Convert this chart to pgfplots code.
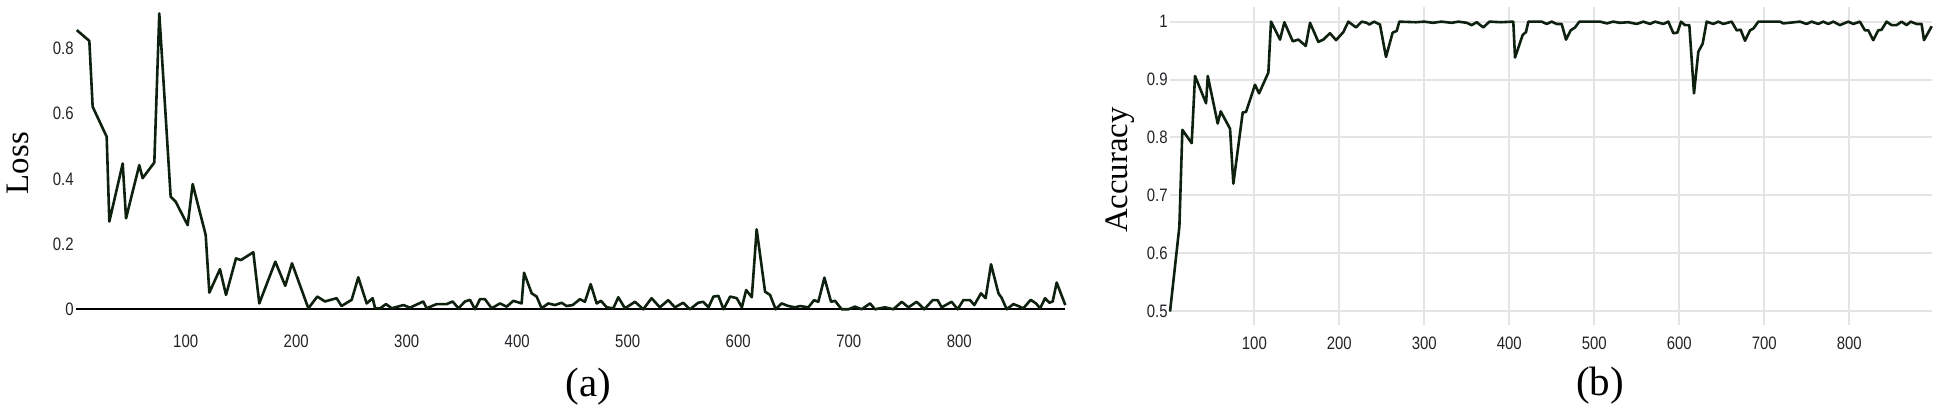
\documentclass[border=0pt]{standalone}
\usepackage{pgfplots}
\pgfplotsset{compat=1.18}
\usepackage{fontspec}
\usepackage{graphicx}
\setmainfont{Liberation Serif}
\newfontfamily\tickfont{Liberation Sans}
\definecolor{curve}{RGB}{14,32,14}
\definecolor{gridc}{RGB}{228,228,228}
\definecolor{tickc}{RGB}{35,35,40}
\pgfplotsset{
  mytick/.style={
    /pgf/number format/assume math mode=true,
    major tick length=0pt,
    tick style={draw=none},
    xticklabel={\tickfont\fontsize{9}{10}\selectfont\scalebox{0.83}[1]{\pgfmathprintnumber{\tick}}},
    yticklabel={\tickfont\fontsize{9}{10}\selectfont\scalebox{0.83}[1]{\pgfmathprintnumber{\tick}}},
    xticklabel style={anchor=north, inner sep=0pt, text=tickc},
    yticklabel style={anchor=east, inner sep=0pt, text=tickc},
    xtick={100,200,300,400,500,600,700,800},
  }
}
\begin{document}
\begin{tikzpicture}
\useasboundingbox (0,0) rectangle (969pt,205pt);
% ---------- (a) Loss ----------
\begin{axis}[
  mytick,
  at={(38.15pt,50.35pt)}, anchor=south west,
  scale only axis, width=494.5pt, height=148.4pt,
  xmin=1, xmax=896, ymin=0, ymax=0.91,
  axis line style={draw=none},
  ytick={0,0.2,0.4,0.6,0.8},
  xticklabel style={yshift=-12.8pt},
  yticklabel style={xshift=-1.1pt},
  clip=false,
]
\draw[black, line width=1pt] (axis cs:1,0) -- (axis cs:896,0);
\addplot[curve, line width=1.3pt, line join=round, mark=none] coordinates {
(1.4,0.856) (12.8,0.823) (15.8,0.621) (28.5,0.529) (30.9,0.269) (43,0.447) (46,0.279)
(58,0.442) (61,0.402) (71.6,0.45) (76.1,0.907) (86.4,0.345) (90.9,0.33) (101.8,0.258)
(106.3,0.384) (118.1,0.228) (121.4,0.051) (131,0.123) (136.5,0.044) (145.5,0.156)
(150,0.151) (161.2,0.175) (166.6,0.018) (181.1,0.146) (190.1,0.072) (196.2,0.141)
(211,0.003) (219.1,0.039) (226,0.024) (236.6,0.034) (241,0.01) (250.2,0.029)
(256.2,0.098) (263.8,0.018) (269.2,0.034) (271.4,0.003) (276,0.003) (281.3,0.016)
(286.4,0.003) (297,0.013) (303,0.005) (315,0.024) (318,0.003) (327.1,0.016)
(336.2,0.016) (341.6,0.024) (346.8,0.003) (352.8,0.024) (357.3,0.029) (361.8,0)
(366.3,0.031) (370.8,0.031) (376.9,0.003) (384.4,0.018) (390.5,0.008) (396.5,0.026)
(404,0.018) (406.2,0.112) (413.1,0.049) (417.6,0.039) (422.1,0.003) (428.1,0.018)
(434.2,0.013) (440.2,0.02) (444.7,0.01) (450.2,0.013) (456.8,0.031) (461.3,0.023)
(466.5,0.077) (471.9,0.018) (475.8,0.026) (481,0.006) (487,0.003) (491.5,0.037)
(497.5,0.003) (506.6,0.023) (514.1,0) (521.6,0.034) (529.1,0.006) (536.7,0.028)
(542.7,0.006) (550.2,0.02) (556.3,0) (563.8,0.02) (568.3,0.023) (573.1,0.006)
(577.6,0.039) (582.1,0.041) (586.7,0) (592.7,0.039) (598.7,0.034) (603.3,0.006)
(607.2,0.059) (612.3,0.037) (616.7,0.245) (624.3,0.054) (628.8,0.044) (633.9,0)
(639.3,0.018) (645.4,0.01) (651.4,0.006) (655.9,0.01) (663.5,0.006) (668.6,0.028)
(672.5,0.023) (678,0.097) (684,0.023) (687.6,0.026) (693.6,0) (699.7,0) (705.7,0.008)
(711.7,0) (719.3,0.018) (723.8,0) (732.8,0.006) (740.4,0) (748,0.023) (754,0.006)
(761.5,0.023) (768.4,0) (776,0.028) (780.5,0.028) (784.1,0.006) (793.1,0.023)
(798.6,0) (803.7,0.028) (809.8,0.028) (813.7,0.013) (819.7,0.049) (823.9,0.034)
(828.8,0.138) (835.5,0.049) (838.4,0.035) (843,0) (849,0.016) (853.5,0.01)
(858,0.003) (864.7,0.029) (869.5,0.018) (873.2,0.003) (877.7,0.034) (881.6,0.02)
(884.6,0.024) (888.2,0.082) (896,0.013)
};
\end{axis}
% ---------- (b) Accuracy ----------
\begin{axis}[
  mytick,
  at={(585.1pt,42.55pt)}, anchor=south west,
  scale only axis, width=380.75pt, height=159.15pt,
  xmin=1, xmax=897, ymin=0.476, ymax=1.026,
  axis line style={draw=none},
  grid=major, grid style={gridc, line width=1pt},
  ytick={0.5,0.6,0.7,0.8,0.9,1},
  xticklabel style={yshift=-5.7pt},
  yticklabel style={xshift=-1.1pt},
  clip=false,
]
\addplot[curve, line width=1.3pt, line join=round, mark=none] coordinates {
(0.8,0.499) (11.8,0.646) (15.3,0.813) (26.3,0.790) (30.2,0.906) (43.2,0.859)
(45.2,0.906) (56.9,0.824) (60.4,0.845) (71.4,0.815) (75.3,0.720) (86.3,0.843)
(90.2,0.844) (100.8,0.891) (105.5,0.876) (116.5,0.912) (119.6,1.0) (130.2,0.969)
(135.3,0.999) (145.2,0.966) (151.8,0.969) (160.5,0.958) (165.5,0.998) (175.3,0.965)
(181.2,0.969) (189,0.98) (196.1,0.968) (204.7,0.982) (210.6,1.0) (219.6,0.99)
(226.3,1.0) (232.2,0.998) (235.3,0.995) (240.8,1.0) (247.8,0.995) (254.9,0.939)
(262.7,0.981) (267.5,0.984) (270.6,1.0) (290,0.999) (300,1.0) (310,0.998) (320,1.0)
(332.2,0.998) (340,1.0) (350,0.998) (355.7,0.994) (361.6,0.999) (369.4,0.99)
(376.5,1.0) (390,0.999) (404.7,1.0) (406.7,0.938) (415.7,0.977) (419.6,0.982)
(422.4,1.0) (438.1,1.0) (444,0.996) (449.8,1.0) (455.7,0.996) (461.6,0.996)
(466.7,0.969) (472.2,0.985) (477.3,0.99) (482.4,1.0) (506.7,1.0) (515,0.997)
(522,1.0) (530.2,0.998) (540,0.999) (549.9,0.996) (557.7,1.0) (565.5,0.996)
(571.4,1.0) (581.2,0.996) (587.1,1.0) (593,0.98) (597.7,0.981) (602,1.0)
(606.7,0.994) (611.8,0.994) (617.3,0.876) (622.4,0.948) (627.5,0.962) (632.2,1.0)
(640,0.996) (645.9,1.0) (651.8,0.996) (661.6,1.0) (667.5,0.985) (672.2,0.986)
(677.3,0.967) (683.2,0.985) (687.1,0.988) (693,1.0) (718.5,1.0) (722.4,0.997)
(742,1.0) (749.8,0.996) (755.7,1.0) (763.5,0.996) (769.4,1.0) (775.3,0.996)
(781.2,1.0) (789,0.994) (798.8,1.0) (804.7,0.996) (812.5,1.0) (818.4,0.985)
(822.4,0.985) (828.2,0.968) (834.1,0.985) (838,0.986) (843.9,1.0) (849.8,0.994)
(855.7,0.994) (861.6,1.0) (867.5,0.994) (872.2,1.0) (879.2,0.996) (885.1,0.996)
(887.9,0.968) (897,0.992)
};
\end{axis}
% ---------- labels ----------
\node[rotate=90, inner sep=0pt, font=\fontsize{16.4}{18}\selectfont] at (8.75pt,123.4pt) {Loss};
\node[rotate=90, inner sep=0pt, font=\fontsize{16.4}{18}\selectfont] at (560pt,120pt) {Accuracy};
\node[inner sep=0pt, font=\fontsize{20.5}{22}\selectfont] at (294.2pt,11.5pt) {(a)};
\node[inner sep=0pt, font=\fontsize{20.5}{22}\selectfont] at (800pt,12pt) {(b)};
\end{tikzpicture}
\end{document}
